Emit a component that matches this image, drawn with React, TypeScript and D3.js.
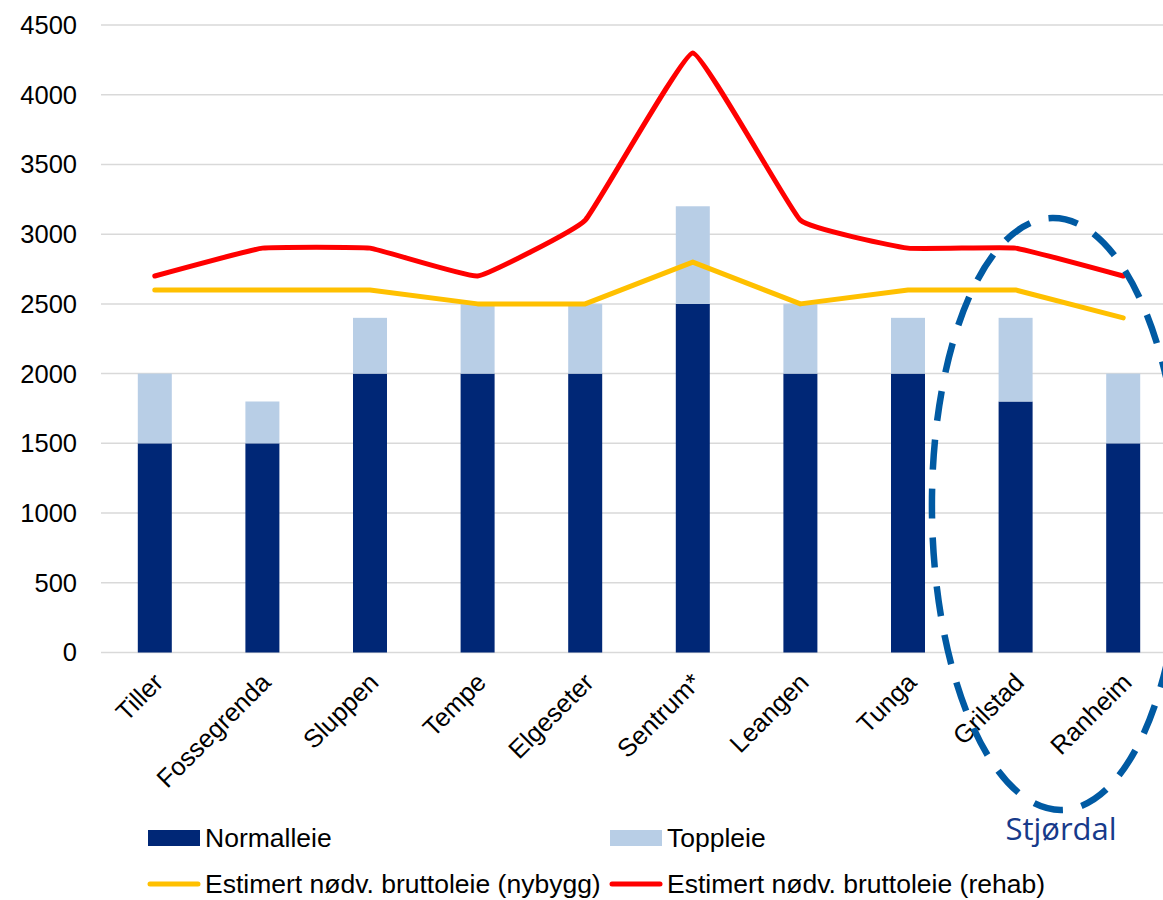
import { useEffect, useRef } from 'react'
import * as d3 from 'd3'

const categories = ['Tiller', 'Fossegrenda', 'Sluppen', 'Tempe', 'Elgeseter', 'Sentrum*', 'Leangen', 'Tunga', 'Grilstad', 'Ranheim']
const normalleie = [1500, 1500, 2000, 2000, 2000, 2500, 2000, 2000, 1800, 1500]
const toppleie = [500, 300, 400, 500, 500, 700, 500, 400, 600, 500]
const nybygg = [2600, 2600, 2600, 2500, 2500, 2800, 2500, 2600, 2600, 2400]
const rehab = [2700, 2900, 2900, 2700, 3100, 4300, 3100, 2900, 2900, 2700]
const yTicks = [0, 500, 1000, 1500, 2000, 2500, 3000, 3500, 4000, 4500]

const W = 1163
const H = 900
const FONT = 'Liberation Sans, Arial, sans-serif'

export default function App() {
  const ref = useRef<SVGSVGElement>(null)

  useEffect(() => {
    const svg = d3.select(ref.current)
    svg.selectAll('*').remove()

    const x = d3.scaleBand<string>()
      .domain(categories)
      .range([101, 101 + 107.6 * categories.length])
      .padding(0)
    const y = d3.scaleLinear().domain([0, 4500]).range([652.5, 25])
    const cx = (c: string) => (x(c) ?? 0) + x.bandwidth() / 2
    const bw = 34

    // gridlines
    svg.append('g')
      .selectAll('line')
      .data(yTicks)
      .join('line')
      .attr('x1', 101)
      .attr('x2', W)
      .attr('y1', d => y(d))
      .attr('y2', d => y(d))
      .attr('stroke', '#d9d9d9')
      .attr('stroke-width', 1.5)

    // y labels
    svg.append('g')
      .selectAll('text')
      .data(yTicks)
      .join('text')
      .attr('x', 77)
      .attr('y', d => y(d))
      .attr('dy', '0.35em')
      .attr('text-anchor', 'end')
      .style('font-family', FONT)
      .style('font-size', '25.5px')
      .attr('fill', '#000')
      .text(d => d)

    // bars
    svg.append('g')
      .selectAll('rect')
      .data(categories)
      .join('rect')
      .attr('x', c => cx(c) - bw / 2)
      .attr('width', bw)
      .attr('y', (c, i) => y(normalleie[i]))
      .attr('height', (c, i) => y(0) - y(normalleie[i]))
      .attr('fill', '#002776')

    svg.append('g')
      .selectAll('rect')
      .data(categories)
      .join('rect')
      .attr('x', c => cx(c) - bw / 2)
      .attr('width', bw)
      .attr('y', (c, i) => y(normalleie[i] + toppleie[i]))
      .attr('height', (c, i) => y(normalleie[i]) - y(normalleie[i] + toppleie[i]))
      .attr('fill', '#b8cee6')

    // lines
    const lineNy = d3.line<number>()
      .x((d, i) => cx(categories[i]))
      .y(d => y(d))
    const lineRe = d3.line<number>()
      .x((d, i) => cx(categories[i]))
      .y(d => y(d))
      .curve(d3.curveCardinal.tension(0.72))

    svg.append('path')
      .datum(nybygg)
      .attr('d', lineNy)
      .attr('fill', 'none')
      .attr('stroke', '#ffc000')
      .attr('stroke-width', 5)
      .attr('stroke-linecap', 'round')
      .attr('stroke-linejoin', 'round')

    svg.append('path')
      .datum(rehab)
      .attr('d', lineRe)
      .attr('fill', 'none')
      .attr('stroke', '#ff0000')
      .attr('stroke-width', 5)
      .attr('stroke-linecap', 'round')
      .attr('stroke-linejoin', 'round')

    // category labels
    svg.append('g')
      .selectAll('text')
      .data(categories)
      .join('text')
      .attr('transform', c => `translate(${cx(c) + 10},${684}) rotate(-45)`)
      .attr('text-anchor', 'end')
      .style('font-family', FONT)
      .style('font-size', '25.5px')
      .attr('fill', '#000')
      .text(c => c)

    // Stjørdal annotation
    svg.append('ellipse')
      .attr('cx', 1057)
      .attr('cy', 514)
      .attr('rx', 125)
      .attr('ry', 296)
      .attr('transform', 'rotate(-0.9 1057 514)')
      .attr('fill', 'none')
      .attr('stroke', '#005aa3')
      .attr('stroke-width', 6.5)
      .attr('stroke-dasharray', '30 19')

    svg.append('text')
      .attr('x', 1061)
      .attr('y', 840)
      .attr('text-anchor', 'middle')
      .style('font-family', 'Open Sans, sans-serif')
      .style('font-size', '31px')
      .attr('fill', '#173a8a')
      .text('Stjørdal')

    // legend
    const legend = svg.append('g')
    const items = [
      { label: 'Normalleie', color: '#002776', type: 'rect', lx: 148, ly: 838 },
      { label: 'Toppleie', color: '#b8cee6', type: 'rect', lx: 610, ly: 838 },
      { label: 'Estimert nødv. bruttoleie (nybygg)', color: '#ffc000', type: 'line', lx: 148, ly: 884 },
      { label: 'Estimert nødv. bruttoleie (rehab)', color: '#ff0000', type: 'line', lx: 610, ly: 884 },
    ]
    items.forEach(it => {
      if (it.type === 'rect') {
        legend.append('rect')
          .attr('x', it.lx)
          .attr('y', it.ly - 8)
          .attr('width', 52)
          .attr('height', 16)
          .attr('fill', it.color)
      } else {
        legend.append('line')
          .attr('x1', it.lx + 2)
          .attr('x2', it.lx + 50)
          .attr('y1', it.ly)
          .attr('y2', it.ly)
          .attr('stroke', it.color)
          .attr('stroke-width', 5)
          .attr('stroke-linecap', 'round')
      }
      legend.append('text')
        .attr('x', it.lx + 57)
        .attr('y', it.ly)
        .attr('dy', '0.35em')
        .style('font-family', FONT)
        .style('font-size', '26.5px')
        .attr('fill', '#000')
        .text(it.label)
    })
  }, [])

  return (
    <div style={{ position: 'absolute', left: 0, top: 0, width: W, height: H, background: '#fff' }}>
      <svg ref={ref} width={W} height={H} style={{ display: 'block' }} />
    </div>
  )
}
